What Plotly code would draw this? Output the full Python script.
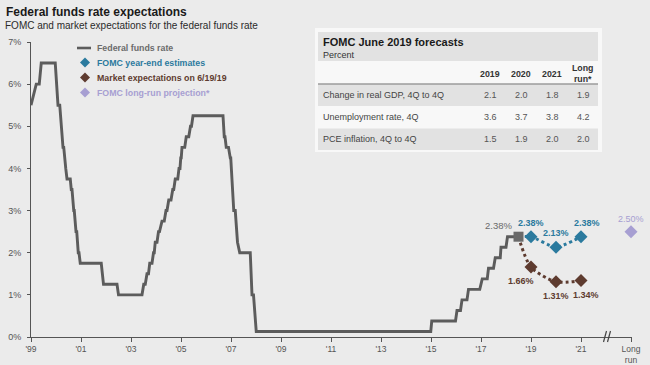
import plotly.graph_objects as go

# ---------------- data ----------------
ffr_dates = [1999.0, 1999.21, 1999.33, 1999.41, 1999.97, 2000.08, 2000.15,
             2000.21, 2000.24, 2000.28, 2000.31, 2000.36, 2000.39, 2000.44, 2000.57,
             2000.61, 2000.64, 2000.71, 2000.73, 2000.80, 2000.83, 2000.89, 2000.92,
             2000.97, 2001.81, 2001.90, 2002.44, 2002.50, 2003.44,
             2003.51, 2003.57, 2003.64, 2003.70, 2003.75, 2003.84, 2003.90, 2003.93,
             2003.97, 2004.04, 2004.10, 2004.14, 2004.24, 2004.33, 2004.40, 2004.44,
             2004.51, 2004.60, 2004.67, 2004.71, 2004.77, 2004.87, 2004.92, 2004.96,
             2004.99, 2005.01, 2005.04, 2005.15, 2005.21, 2005.31, 2005.38, 2005.42,
             2005.48, 2006.68, 2006.73, 2006.76, 2006.81, 2006.90, 2006.97, 2006.99,
             2007.11, 2007.17, 2007.26, 2007.35, 2007.77, 2007.84, 2007.90, 2008.01,
             2014.99, 2015.03, 2015.98, 2016.04, 2016.18, 2016.24, 2016.44, 2016.50,
             2016.95, 2017.05, 2017.25, 2017.30, 2017.50, 2017.57, 2017.77, 2017.80,
             2018.00, 2018.06, 2018.50]
ffr_values = [5.50, 6.00, 6.00, 6.50, 6.50, 5.50, 5.50,
              5.00, 5.00, 4.50, 4.50, 4.00, 4.00, 3.75, 3.75,
              3.50, 3.50, 3.00, 3.00, 2.50, 2.50, 2.00, 2.00,
              1.75, 1.75, 1.25, 1.25, 1.00, 1.00,
              1.25, 1.25, 1.50, 1.50, 1.75, 1.75, 2.00, 2.00,
              2.25, 2.25, 2.50, 2.50, 2.75, 2.75, 3.00, 3.00,
              3.25, 3.25, 3.50, 3.50, 3.75, 3.75, 4.00, 4.00,
              4.25, 4.25, 4.50, 4.50, 4.75, 4.75, 5.00, 5.00,
              5.25, 5.25, 4.75, 4.75, 4.50, 4.50, 4.25, 4.25,
              3.00, 3.00, 2.25, 2.00, 2.00, 1.00, 1.00, 0.13,
              0.13, 0.38, 0.38, 0.63, 0.63, 0.88, 0.88, 1.13,
              1.13, 1.38, 1.38, 1.63, 1.63, 1.88, 1.88, 2.13,
              2.13, 2.38, 2.38]

forecast_years = [2019, 2020, 2021]
fomc_estimates = [2.38, 2.13, 2.38]
market_expect = [1.66, 1.31, 1.34]
long_run_x = 2023
long_run_value = 2.50

tick_vals = [1999, 2001, 2003, 2005, 2007, 2009, 2011, 2013, 2015, 2017, 2019, 2021, 2023]
tick_text = ["'99", "'01", "'03", "'05", "'07", "'09", "'11", "'13", "'15", "'17", "'19", "'21", "Long<br>run"]

legend_labels = ["Federal funds rate", "FOMC year-end estimates",
                 "Market expectations on 6/19/19", "FOMC long-run projection*"]

table_title = "FOMC June 2019 forecasts"
table_unit = "Percent"
table_rows = ["Change in real GDP, 4Q to 4Q", "Unemployment rate, 4Q", "PCE inflation, 4Q to 4Q"]
table_cols = ["2019", "2020", "2021", "Long<br>run*"]
col_2019 = ["2.1", "3.6", "1.5"]
col_2020 = ["2.0", "3.7", "1.9"]
col_2021 = ["1.8", "3.8", "2.0"]
col_long = ["1.9", "4.2", "2.0"]

# ---------------- styling ----------------
W, H = 650, 365
ML, MR, MT, MB = 31, 18, 42, 28
PW, PH = W - ML - MR, H - MT - MB
BG = "#ebebeb"
GRAY = "#5c5c5c"
BLUE = "#2b7a9e"
BROWN = "#5e3b2f"
LAV = "#a79fd2"
FONT = "Arial, Liberation Sans, sans-serif"
LIGHT = "#f8f8f8"
ROWGRAY = "#e2e2e2"

def px(x):
    return (x - ML) / PW

def py(y):
    return (H - MB - y) / PH

last_x, last_y = ffr_dates[-1], ffr_values[-1]

fig = go.Figure()

fig.add_trace(go.Scatter(x=ffr_dates, y=ffr_values, mode="lines",
                         line=dict(color=GRAY, width=2.9), hoverinfo="skip"))

# dotted forecast paths
fig.add_trace(go.Scatter(x=[last_x] + forecast_years, y=[last_y] + fomc_estimates,
                         mode="lines", line=dict(color=BLUE, width=3, dash="dot", shape="spline", smoothing=0.6),
                         hoverinfo="skip"))
fig.add_trace(go.Scatter(x=[last_x] + forecast_years, y=[last_y] + market_expect,
                         mode="lines", line=dict(color=BROWN, width=3, dash="dot", shape="spline", smoothing=0.8),
                         hoverinfo="skip"))

fig.add_trace(go.Scatter(x=forecast_years, y=fomc_estimates, mode="markers",
                         marker=dict(symbol="diamond", size=10, color=BLUE)))
fig.add_trace(go.Scatter(x=forecast_years, y=market_expect, mode="markers",
                         marker=dict(symbol="diamond", size=10, color=BROWN)))
fig.add_trace(go.Scatter(x=[long_run_x], y=[long_run_value], mode="markers",
                         marker=dict(symbol="diamond", size=10, color=LAV), cliponaxis=False))
fig.add_trace(go.Scatter(x=[last_x], y=[last_y], mode="markers",
                         marker=dict(symbol="square", size=10, color="#6a6a6a"), hoverinfo="skip"))

annotations = []
shapes = []

# value labels
annotations.append(dict(x=last_x, y=last_y, text=f"{last_y:.2f}%", showarrow=False,
                        xanchor="right", xshift=-5, yshift=11, font=dict(size=9.5, color="#6a6a6a")))
for i, (xv, yv) in enumerate(zip(forecast_years, fomc_estimates)):
    annotations.append(dict(x=xv, y=yv, text=f"<b>{yv:.2f}%</b>", showarrow=False,
                            xshift=6 if i == 2 else 0, yshift=14, font=dict(size=9, color=BLUE)))
for i, (xv, yv) in enumerate(zip(forecast_years, market_expect)):
    xs = [-10, 0, 5][i]
    annotations.append(dict(x=xv, y=yv, text=f"<b>{yv:.2f}%</b>", showarrow=False,
                            xshift=xs, yshift=-14, font=dict(size=9, color=BROWN)))
annotations.append(dict(x=long_run_x, y=long_run_value, text=f"{long_run_value:.2f}%",
                        showarrow=False, yshift=13, font=dict(size=9, color=LAV)))

# titles
annotations.append(dict(xref="paper", yref="paper", x=px(4), y=py(3.5), xanchor="left", yanchor="top",
                        text="<b>Federal funds rate expectations</b>", showarrow=False,
                        font=dict(size=12, color="#1a1a1a")))
annotations.append(dict(xref="paper", yref="paper", x=px(3), y=py(18), xanchor="left", yanchor="top",
                        text="FOMC and market expectations for the federal funds rate", showarrow=False,
                        font=dict(size=10, color="#2a2a2a")))

# manual legend
leg_colors = ["#6b6b6b", BLUE, BROWN, LAV]
leg_y = [48, 62.5, 77.5, 92.5]
for i, (lab, col, yy) in enumerate(zip(legend_labels, leg_colors, leg_y)):
    if i == 0:
        shapes.append(dict(type="line", xref="paper", yref="paper", x0=px(77), x1=px(91),
                           y0=py(yy), y1=py(yy), line=dict(color=GRAY, width=2.6)))
    else:
        cx, cy, r = 85, yy, 5
        path = (f"M {px(cx)} {py(cy - r)} L {px(cx + r)} {py(cy)} "
                f"L {px(cx)} {py(cy + r)} L {px(cx - r)} {py(cy)} Z")
        shapes.append(dict(type="path", xref="paper", yref="paper", path=path,
                           fillcolor=col, line=dict(width=0)))
    annotations.append(dict(xref="paper", yref="paper", x=px(95), y=py(yy), xanchor="left",
                            yanchor="middle", text=f"<b>{lab}</b>", showarrow=False,
                            font=dict(size=8.8, color=col)))

# table (built from the arrays)
shapes += [
    dict(type="rect", xref="paper", yref="paper", x0=px(315), x1=px(602), y0=py(152), y1=py(28),
         fillcolor=LIGHT, line=dict(width=0), layer="below"),
    dict(type="rect", xref="paper", yref="paper", x0=px(318), x1=px(598), y0=py(61), y1=py(32),
         fillcolor=ROWGRAY, line=dict(width=0), layer="below"),
    dict(type="line", xref="paper", yref="paper", x0=px(318), x1=px(598), y0=py(84), y1=py(84),
         line=dict(color="#6e6e6e", width=1)),
]
annotations.append(dict(xref="paper", yref="paper", x=px(321), y=py(42), xanchor="left", yanchor="middle",
                        text=f"<b>{table_title}</b>", showarrow=False, font=dict(size=11, color="#1a1a1a")))
annotations.append(dict(xref="paper", yref="paper", x=px(321), y=py(55.5), xanchor="left", yanchor="middle",
                        text=table_unit, showarrow=False, font=dict(size=9, color="#333")))
col_x = [490, 521, 552, 583]
row_top = [84.5, 106.5, 128.5]
row_h = 21.5
for j, c in enumerate(table_cols):
    annotations.append(dict(xref="paper", yref="paper", x=px(col_x[j]), y=py(73.5), xanchor="center",
                            yanchor="middle", text=f"<b>{c}</b>", showarrow=False,
                            font=dict(size=8.8, color="#333")))
columns = [col_2019, col_2020, col_2021, col_long]
for i, lab in enumerate(table_rows):
    y0 = row_top[i]
    fill = ROWGRAY if i % 2 == 0 else LIGHT
    shapes.append(dict(type="rect", xref="paper", yref="paper", x0=px(318), x1=px(598),
                       y0=py(y0 + row_h), y1=py(y0), fillcolor=fill, line=dict(width=0), layer="below"))
    yc = y0 + row_h / 2
    annotations.append(dict(xref="paper", yref="paper", x=px(321), y=py(yc), xanchor="left",
                            yanchor="middle", text=lab, showarrow=False, font=dict(size=9, color="#444")))
    for j, col in enumerate(columns):
        annotations.append(dict(xref="paper", yref="paper", x=px(col_x[j]), y=py(yc), xanchor="center",
                                yanchor="middle", text=col[i], showarrow=False,
                                font=dict(size=9, color="#555")))

# axis break
shapes += [
    dict(type="line", xref="paper", yref="paper", x0=px(603.5), x1=px(606.5), y0=py(342), y1=py(331),
         line=dict(color="#444", width=1.2)),
    dict(type="line", xref="paper", yref="paper", x0=px(607.5), x1=px(610.5), y0=py(342), y1=py(331),
         line=dict(color="#444", width=1.2)),
]

fig.update_layout(
    width=W, height=H,
    margin=dict(l=ML, r=MR, t=MT, b=MB),
    paper_bgcolor=BG, plot_bgcolor=BG,
    font=dict(family=FONT, size=9, color="#555"),
    showlegend=False,
    annotations=annotations,
    shapes=shapes,
    xaxis=dict(range=[1999, 2023.04], tickvals=tick_vals, ticktext=tick_text, automargin=False,
               showgrid=False, zeroline=False, showline=True, linecolor="#555", linewidth=1,
               ticks="outside", ticklen=4, tickcolor="#555", tickfont=dict(size=8.5, color="#555")),
    yaxis=dict(range=[0, 7], dtick=1, ticksuffix="%", showgrid=False, zeroline=False, automargin=False,
               showline=True, linecolor="#555", linewidth=1, ticks="outside", ticklen=3,
               ticklabelstandoff=4,
               tickcolor="#555", tickfont=dict(size=9, color="#555")),
)

fig.write_html("out.html", config={"displayModeBar": False},
               post_script="document.body.style.margin='0';document.body.style.overflow='hidden';")
